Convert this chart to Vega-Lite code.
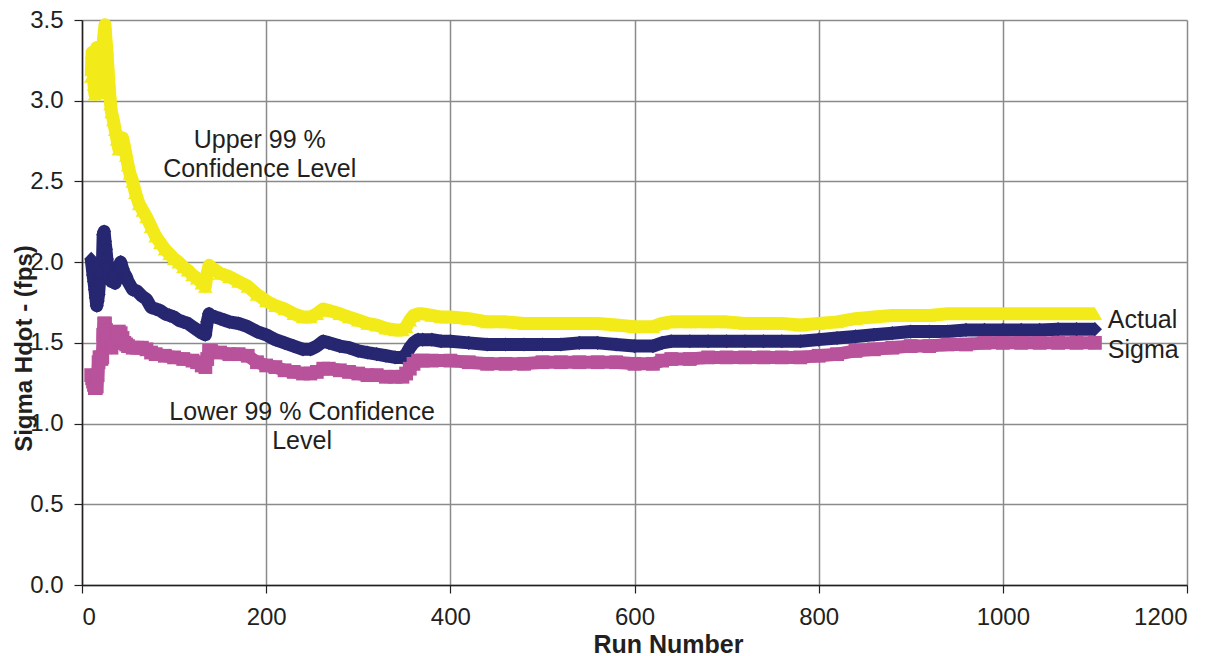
{
  "$schema": "https://vega.github.io/schema/vega-lite/v6.json",
  "width": 1105,
  "height": 565,
  "autosize": {"type": "none"},
  "padding": {"left": 82, "top": 20, "right": 38, "bottom": 71},
  "background": "white",
  "config": {
    "view": {"stroke": null},
    "font": "Liberation Sans",
    "axis": {
      "labelFont": "Liberation Sans",
      "titleFont": "Liberation Sans",
      "labelColor": "#231f20",
      "titleColor": "#231f20",
      "labelFontSize": 24,
      "titleFontSize": 24,
      "titleFontWeight": "bold",
      "gridColor": "#8a8a8a",
      "gridWidth": 1.5,
      "gridOpacity": 1,
      "domainColor": "#231f20",
      "domainWidth": 1.5,
      "tickColor": "#231f20",
      "tickWidth": 1.2,
      "tickSize": 8
    }
  },
  "datasets": {
    "series": [
      {"run": 10, "series": "Upper", "sigma": 3.15},
      {"run": 11, "series": "Upper", "sigma": 3.3},
      {"run": 12, "series": "Upper", "sigma": 3.2},
      {"run": 13, "series": "Upper", "sigma": 3.1},
      {"run": 14, "series": "Upper", "sigma": 3.04},
      {"run": 15, "series": "Upper", "sigma": 3.1},
      {"run": 16, "series": "Upper", "sigma": 3.33},
      {"run": 17, "series": "Upper", "sigma": 3.22},
      {"run": 18, "series": "Upper", "sigma": 3.17},
      {"run": 19, "series": "Upper", "sigma": 3.1},
      {"run": 20, "series": "Upper", "sigma": 3.05},
      {"run": 21, "series": "Upper", "sigma": 3.16},
      {"run": 22, "series": "Upper", "sigma": 3.25},
      {"run": 23, "series": "Upper", "sigma": 3.35},
      {"run": 24, "series": "Upper", "sigma": 3.42},
      {"run": 25, "series": "Upper", "sigma": 3.47},
      {"run": 26, "series": "Upper", "sigma": 3.38},
      {"run": 27, "series": "Upper", "sigma": 3.32},
      {"run": 28, "series": "Upper", "sigma": 3.22},
      {"run": 29, "series": "Upper", "sigma": 3.13},
      {"run": 30, "series": "Upper", "sigma": 3.05},
      {"run": 31, "series": "Upper", "sigma": 2.98},
      {"run": 32, "series": "Upper", "sigma": 2.93},
      {"run": 34, "series": "Upper", "sigma": 2.88},
      {"run": 36, "series": "Upper", "sigma": 2.82},
      {"run": 38, "series": "Upper", "sigma": 2.76},
      {"run": 40, "series": "Upper", "sigma": 2.7},
      {"run": 42, "series": "Upper", "sigma": 2.72},
      {"run": 44, "series": "Upper", "sigma": 2.77},
      {"run": 46, "series": "Upper", "sigma": 2.72},
      {"run": 48, "series": "Upper", "sigma": 2.66},
      {"run": 50, "series": "Upper", "sigma": 2.6},
      {"run": 52, "series": "Upper", "sigma": 2.55},
      {"run": 55, "series": "Upper", "sigma": 2.5},
      {"run": 58, "series": "Upper", "sigma": 2.43},
      {"run": 62, "series": "Upper", "sigma": 2.36},
      {"run": 66, "series": "Upper", "sigma": 2.32},
      {"run": 70, "series": "Upper", "sigma": 2.28},
      {"run": 75, "series": "Upper", "sigma": 2.22},
      {"run": 80, "series": "Upper", "sigma": 2.16},
      {"run": 85, "series": "Upper", "sigma": 2.12},
      {"run": 90, "series": "Upper", "sigma": 2.08},
      {"run": 95, "series": "Upper", "sigma": 2.05},
      {"run": 100, "series": "Upper", "sigma": 2.02},
      {"run": 105, "series": "Upper", "sigma": 2.0},
      {"run": 110, "series": "Upper", "sigma": 1.97},
      {"run": 115, "series": "Upper", "sigma": 1.95},
      {"run": 120, "series": "Upper", "sigma": 1.92},
      {"run": 125, "series": "Upper", "sigma": 1.9},
      {"run": 130, "series": "Upper", "sigma": 1.87},
      {"run": 134, "series": "Upper", "sigma": 1.85},
      {"run": 136, "series": "Upper", "sigma": 1.93},
      {"run": 138, "series": "Upper", "sigma": 1.98},
      {"run": 140, "series": "Upper", "sigma": 1.97},
      {"run": 145, "series": "Upper", "sigma": 1.95},
      {"run": 150, "series": "Upper", "sigma": 1.93},
      {"run": 160, "series": "Upper", "sigma": 1.91},
      {"run": 170, "series": "Upper", "sigma": 1.88},
      {"run": 180, "series": "Upper", "sigma": 1.85},
      {"run": 190, "series": "Upper", "sigma": 1.8},
      {"run": 200, "series": "Upper", "sigma": 1.76},
      {"run": 210, "series": "Upper", "sigma": 1.73},
      {"run": 220, "series": "Upper", "sigma": 1.71},
      {"run": 230, "series": "Upper", "sigma": 1.68},
      {"run": 240, "series": "Upper", "sigma": 1.66},
      {"run": 248, "series": "Upper", "sigma": 1.66},
      {"run": 255, "series": "Upper", "sigma": 1.68},
      {"run": 262, "series": "Upper", "sigma": 1.71},
      {"run": 268, "series": "Upper", "sigma": 1.7},
      {"run": 280, "series": "Upper", "sigma": 1.68},
      {"run": 290, "series": "Upper", "sigma": 1.66},
      {"run": 300, "series": "Upper", "sigma": 1.64},
      {"run": 310, "series": "Upper", "sigma": 1.62},
      {"run": 320, "series": "Upper", "sigma": 1.61},
      {"run": 330, "series": "Upper", "sigma": 1.59},
      {"run": 340, "series": "Upper", "sigma": 1.58},
      {"run": 348, "series": "Upper", "sigma": 1.58},
      {"run": 352, "series": "Upper", "sigma": 1.6},
      {"run": 356, "series": "Upper", "sigma": 1.64},
      {"run": 360, "series": "Upper", "sigma": 1.67},
      {"run": 365, "series": "Upper", "sigma": 1.68},
      {"run": 370, "series": "Upper", "sigma": 1.68},
      {"run": 380, "series": "Upper", "sigma": 1.67},
      {"run": 390, "series": "Upper", "sigma": 1.66},
      {"run": 400, "series": "Upper", "sigma": 1.66},
      {"run": 420, "series": "Upper", "sigma": 1.65},
      {"run": 440, "series": "Upper", "sigma": 1.63},
      {"run": 460, "series": "Upper", "sigma": 1.63},
      {"run": 480, "series": "Upper", "sigma": 1.62},
      {"run": 500, "series": "Upper", "sigma": 1.62},
      {"run": 520, "series": "Upper", "sigma": 1.62},
      {"run": 540, "series": "Upper", "sigma": 1.62},
      {"run": 560, "series": "Upper", "sigma": 1.62},
      {"run": 580, "series": "Upper", "sigma": 1.61},
      {"run": 600, "series": "Upper", "sigma": 1.6},
      {"run": 620, "series": "Upper", "sigma": 1.6},
      {"run": 630, "series": "Upper", "sigma": 1.62},
      {"run": 640, "series": "Upper", "sigma": 1.63},
      {"run": 660, "series": "Upper", "sigma": 1.63},
      {"run": 680, "series": "Upper", "sigma": 1.63},
      {"run": 700, "series": "Upper", "sigma": 1.63},
      {"run": 720, "series": "Upper", "sigma": 1.62},
      {"run": 740, "series": "Upper", "sigma": 1.62},
      {"run": 760, "series": "Upper", "sigma": 1.62},
      {"run": 780, "series": "Upper", "sigma": 1.61},
      {"run": 800, "series": "Upper", "sigma": 1.62},
      {"run": 820, "series": "Upper", "sigma": 1.63},
      {"run": 840, "series": "Upper", "sigma": 1.65},
      {"run": 860, "series": "Upper", "sigma": 1.66},
      {"run": 880, "series": "Upper", "sigma": 1.67},
      {"run": 900, "series": "Upper", "sigma": 1.67},
      {"run": 920, "series": "Upper", "sigma": 1.67},
      {"run": 940, "series": "Upper", "sigma": 1.68},
      {"run": 960, "series": "Upper", "sigma": 1.68},
      {"run": 980, "series": "Upper", "sigma": 1.68},
      {"run": 1000, "series": "Upper", "sigma": 1.68},
      {"run": 1020, "series": "Upper", "sigma": 1.68},
      {"run": 1040, "series": "Upper", "sigma": 1.68},
      {"run": 1060, "series": "Upper", "sigma": 1.68},
      {"run": 1080, "series": "Upper", "sigma": 1.68},
      {"run": 1100, "series": "Upper", "sigma": 1.68},

      {"run": 10, "series": "Actual", "sigma": 2.02},
      {"run": 12, "series": "Actual", "sigma": 1.92},
      {"run": 13, "series": "Actual", "sigma": 1.88},
      {"run": 14, "series": "Actual", "sigma": 1.83},
      {"run": 15, "series": "Actual", "sigma": 1.78},
      {"run": 16, "series": "Actual", "sigma": 1.73},
      {"run": 17, "series": "Actual", "sigma": 1.76},
      {"run": 18, "series": "Actual", "sigma": 1.8},
      {"run": 19, "series": "Actual", "sigma": 1.88},
      {"run": 20, "series": "Actual", "sigma": 1.91},
      {"run": 21, "series": "Actual", "sigma": 1.93},
      {"run": 22, "series": "Actual", "sigma": 1.95},
      {"run": 23, "series": "Actual", "sigma": 2.17},
      {"run": 24, "series": "Actual", "sigma": 2.19},
      {"run": 25, "series": "Actual", "sigma": 2.13},
      {"run": 26, "series": "Actual", "sigma": 2.08},
      {"run": 27, "series": "Actual", "sigma": 2.02},
      {"run": 28, "series": "Actual", "sigma": 1.97},
      {"run": 29, "series": "Actual", "sigma": 1.93},
      {"run": 30, "series": "Actual", "sigma": 1.9},
      {"run": 32, "series": "Actual", "sigma": 1.88},
      {"run": 34, "series": "Actual", "sigma": 1.92},
      {"run": 36, "series": "Actual", "sigma": 1.87},
      {"run": 38, "series": "Actual", "sigma": 1.93},
      {"run": 40, "series": "Actual", "sigma": 1.97},
      {"run": 42, "series": "Actual", "sigma": 2.0},
      {"run": 44, "series": "Actual", "sigma": 1.96},
      {"run": 46, "series": "Actual", "sigma": 1.93},
      {"run": 48, "series": "Actual", "sigma": 1.91},
      {"run": 50, "series": "Actual", "sigma": 1.88},
      {"run": 55, "series": "Actual", "sigma": 1.83},
      {"run": 60, "series": "Actual", "sigma": 1.82},
      {"run": 65, "series": "Actual", "sigma": 1.79},
      {"run": 70, "series": "Actual", "sigma": 1.77},
      {"run": 75, "series": "Actual", "sigma": 1.72},
      {"run": 80, "series": "Actual", "sigma": 1.71},
      {"run": 85, "series": "Actual", "sigma": 1.7},
      {"run": 90, "series": "Actual", "sigma": 1.68},
      {"run": 95, "series": "Actual", "sigma": 1.67},
      {"run": 100, "series": "Actual", "sigma": 1.66},
      {"run": 105, "series": "Actual", "sigma": 1.64},
      {"run": 110, "series": "Actual", "sigma": 1.63},
      {"run": 115, "series": "Actual", "sigma": 1.62},
      {"run": 120, "series": "Actual", "sigma": 1.6},
      {"run": 125, "series": "Actual", "sigma": 1.58},
      {"run": 130, "series": "Actual", "sigma": 1.56},
      {"run": 134, "series": "Actual", "sigma": 1.55},
      {"run": 136, "series": "Actual", "sigma": 1.63},
      {"run": 138, "series": "Actual", "sigma": 1.68},
      {"run": 140, "series": "Actual", "sigma": 1.67},
      {"run": 145, "series": "Actual", "sigma": 1.66},
      {"run": 150, "series": "Actual", "sigma": 1.65},
      {"run": 155, "series": "Actual", "sigma": 1.64},
      {"run": 160, "series": "Actual", "sigma": 1.63},
      {"run": 170, "series": "Actual", "sigma": 1.62},
      {"run": 180, "series": "Actual", "sigma": 1.6},
      {"run": 190, "series": "Actual", "sigma": 1.57},
      {"run": 200, "series": "Actual", "sigma": 1.55},
      {"run": 210, "series": "Actual", "sigma": 1.52},
      {"run": 220, "series": "Actual", "sigma": 1.5},
      {"run": 230, "series": "Actual", "sigma": 1.48},
      {"run": 240, "series": "Actual", "sigma": 1.46},
      {"run": 248, "series": "Actual", "sigma": 1.46},
      {"run": 255, "series": "Actual", "sigma": 1.48},
      {"run": 262, "series": "Actual", "sigma": 1.51},
      {"run": 268, "series": "Actual", "sigma": 1.5},
      {"run": 280, "series": "Actual", "sigma": 1.48},
      {"run": 290, "series": "Actual", "sigma": 1.47},
      {"run": 300, "series": "Actual", "sigma": 1.45},
      {"run": 310, "series": "Actual", "sigma": 1.44},
      {"run": 320, "series": "Actual", "sigma": 1.43},
      {"run": 330, "series": "Actual", "sigma": 1.42},
      {"run": 340, "series": "Actual", "sigma": 1.41},
      {"run": 348, "series": "Actual", "sigma": 1.41},
      {"run": 352, "series": "Actual", "sigma": 1.43},
      {"run": 356, "series": "Actual", "sigma": 1.47},
      {"run": 360, "series": "Actual", "sigma": 1.5},
      {"run": 365, "series": "Actual", "sigma": 1.52},
      {"run": 370, "series": "Actual", "sigma": 1.52},
      {"run": 380, "series": "Actual", "sigma": 1.52},
      {"run": 390, "series": "Actual", "sigma": 1.51},
      {"run": 400, "series": "Actual", "sigma": 1.51},
      {"run": 420, "series": "Actual", "sigma": 1.5},
      {"run": 440, "series": "Actual", "sigma": 1.49},
      {"run": 460, "series": "Actual", "sigma": 1.49},
      {"run": 480, "series": "Actual", "sigma": 1.49},
      {"run": 500, "series": "Actual", "sigma": 1.49},
      {"run": 520, "series": "Actual", "sigma": 1.49},
      {"run": 540, "series": "Actual", "sigma": 1.5},
      {"run": 560, "series": "Actual", "sigma": 1.5},
      {"run": 580, "series": "Actual", "sigma": 1.49},
      {"run": 600, "series": "Actual", "sigma": 1.48},
      {"run": 620, "series": "Actual", "sigma": 1.48},
      {"run": 630, "series": "Actual", "sigma": 1.5},
      {"run": 640, "series": "Actual", "sigma": 1.51},
      {"run": 660, "series": "Actual", "sigma": 1.51},
      {"run": 680, "series": "Actual", "sigma": 1.51},
      {"run": 700, "series": "Actual", "sigma": 1.51},
      {"run": 720, "series": "Actual", "sigma": 1.51},
      {"run": 740, "series": "Actual", "sigma": 1.51},
      {"run": 760, "series": "Actual", "sigma": 1.51},
      {"run": 780, "series": "Actual", "sigma": 1.51},
      {"run": 800, "series": "Actual", "sigma": 1.52},
      {"run": 820, "series": "Actual", "sigma": 1.53},
      {"run": 840, "series": "Actual", "sigma": 1.54},
      {"run": 860, "series": "Actual", "sigma": 1.55},
      {"run": 880, "series": "Actual", "sigma": 1.56},
      {"run": 900, "series": "Actual", "sigma": 1.57},
      {"run": 920, "series": "Actual", "sigma": 1.57},
      {"run": 940, "series": "Actual", "sigma": 1.57},
      {"run": 960, "series": "Actual", "sigma": 1.58},
      {"run": 980, "series": "Actual", "sigma": 1.58},
      {"run": 1000, "series": "Actual", "sigma": 1.58},
      {"run": 1020, "series": "Actual", "sigma": 1.58},
      {"run": 1040, "series": "Actual", "sigma": 1.58},
      {"run": 1060, "series": "Actual", "sigma": 1.585},
      {"run": 1080, "series": "Actual", "sigma": 1.585},
      {"run": 1100, "series": "Actual", "sigma": 1.585},

      {"run": 10, "series": "Lower", "sigma": 1.3},
      {"run": 11, "series": "Lower", "sigma": 1.28},
      {"run": 12, "series": "Lower", "sigma": 1.26},
      {"run": 13, "series": "Lower", "sigma": 1.24},
      {"run": 14, "series": "Lower", "sigma": 1.22},
      {"run": 15, "series": "Lower", "sigma": 1.22},
      {"run": 16, "series": "Lower", "sigma": 1.23},
      {"run": 17, "series": "Lower", "sigma": 1.3},
      {"run": 18, "series": "Lower", "sigma": 1.38},
      {"run": 19, "series": "Lower", "sigma": 1.41},
      {"run": 20, "series": "Lower", "sigma": 1.41},
      {"run": 21, "series": "Lower", "sigma": 1.4},
      {"run": 22, "series": "Lower", "sigma": 1.41},
      {"run": 23, "series": "Lower", "sigma": 1.55},
      {"run": 24, "series": "Lower", "sigma": 1.62},
      {"run": 25, "series": "Lower", "sigma": 1.62},
      {"run": 26, "series": "Lower", "sigma": 1.58},
      {"run": 27, "series": "Lower", "sigma": 1.55},
      {"run": 28, "series": "Lower", "sigma": 1.52},
      {"run": 29, "series": "Lower", "sigma": 1.5},
      {"run": 30, "series": "Lower", "sigma": 1.48},
      {"run": 32, "series": "Lower", "sigma": 1.47},
      {"run": 34, "series": "Lower", "sigma": 1.5},
      {"run": 36, "series": "Lower", "sigma": 1.52},
      {"run": 38, "series": "Lower", "sigma": 1.56},
      {"run": 40, "series": "Lower", "sigma": 1.57},
      {"run": 42, "series": "Lower", "sigma": 1.56},
      {"run": 44, "series": "Lower", "sigma": 1.53},
      {"run": 46, "series": "Lower", "sigma": 1.5},
      {"run": 48, "series": "Lower", "sigma": 1.49},
      {"run": 50, "series": "Lower", "sigma": 1.48},
      {"run": 55, "series": "Lower", "sigma": 1.47},
      {"run": 60, "series": "Lower", "sigma": 1.47},
      {"run": 65, "series": "Lower", "sigma": 1.47},
      {"run": 70, "series": "Lower", "sigma": 1.46},
      {"run": 75, "series": "Lower", "sigma": 1.44},
      {"run": 80, "series": "Lower", "sigma": 1.43},
      {"run": 90, "series": "Lower", "sigma": 1.42},
      {"run": 100, "series": "Lower", "sigma": 1.41},
      {"run": 110, "series": "Lower", "sigma": 1.4},
      {"run": 120, "series": "Lower", "sigma": 1.39},
      {"run": 125, "series": "Lower", "sigma": 1.38},
      {"run": 130, "series": "Lower", "sigma": 1.36},
      {"run": 134, "series": "Lower", "sigma": 1.35},
      {"run": 136, "series": "Lower", "sigma": 1.4},
      {"run": 138, "series": "Lower", "sigma": 1.45},
      {"run": 140, "series": "Lower", "sigma": 1.45},
      {"run": 150, "series": "Lower", "sigma": 1.44},
      {"run": 160, "series": "Lower", "sigma": 1.43},
      {"run": 170, "series": "Lower", "sigma": 1.43},
      {"run": 180, "series": "Lower", "sigma": 1.42},
      {"run": 190, "series": "Lower", "sigma": 1.38},
      {"run": 200, "series": "Lower", "sigma": 1.36},
      {"run": 210, "series": "Lower", "sigma": 1.35},
      {"run": 220, "series": "Lower", "sigma": 1.33},
      {"run": 230, "series": "Lower", "sigma": 1.32},
      {"run": 240, "series": "Lower", "sigma": 1.31},
      {"run": 248, "series": "Lower", "sigma": 1.31},
      {"run": 255, "series": "Lower", "sigma": 1.32},
      {"run": 262, "series": "Lower", "sigma": 1.34},
      {"run": 268, "series": "Lower", "sigma": 1.34},
      {"run": 280, "series": "Lower", "sigma": 1.33},
      {"run": 290, "series": "Lower", "sigma": 1.32},
      {"run": 300, "series": "Lower", "sigma": 1.31},
      {"run": 310, "series": "Lower", "sigma": 1.3},
      {"run": 320, "series": "Lower", "sigma": 1.3},
      {"run": 330, "series": "Lower", "sigma": 1.29},
      {"run": 340, "series": "Lower", "sigma": 1.29},
      {"run": 348, "series": "Lower", "sigma": 1.29},
      {"run": 352, "series": "Lower", "sigma": 1.31},
      {"run": 356, "series": "Lower", "sigma": 1.34},
      {"run": 360, "series": "Lower", "sigma": 1.37},
      {"run": 365, "series": "Lower", "sigma": 1.39},
      {"run": 370, "series": "Lower", "sigma": 1.39},
      {"run": 380, "series": "Lower", "sigma": 1.39},
      {"run": 400, "series": "Lower", "sigma": 1.39},
      {"run": 420, "series": "Lower", "sigma": 1.38},
      {"run": 440, "series": "Lower", "sigma": 1.37},
      {"run": 460, "series": "Lower", "sigma": 1.37},
      {"run": 480, "series": "Lower", "sigma": 1.37},
      {"run": 500, "series": "Lower", "sigma": 1.38},
      {"run": 520, "series": "Lower", "sigma": 1.38},
      {"run": 540, "series": "Lower", "sigma": 1.38},
      {"run": 560, "series": "Lower", "sigma": 1.38},
      {"run": 580, "series": "Lower", "sigma": 1.38},
      {"run": 600, "series": "Lower", "sigma": 1.37},
      {"run": 620, "series": "Lower", "sigma": 1.37},
      {"run": 630, "series": "Lower", "sigma": 1.39},
      {"run": 640, "series": "Lower", "sigma": 1.4},
      {"run": 660, "series": "Lower", "sigma": 1.4},
      {"run": 680, "series": "Lower", "sigma": 1.41},
      {"run": 700, "series": "Lower", "sigma": 1.41},
      {"run": 720, "series": "Lower", "sigma": 1.41},
      {"run": 740, "series": "Lower", "sigma": 1.41},
      {"run": 760, "series": "Lower", "sigma": 1.41},
      {"run": 780, "series": "Lower", "sigma": 1.41},
      {"run": 800, "series": "Lower", "sigma": 1.42},
      {"run": 820, "series": "Lower", "sigma": 1.43},
      {"run": 840, "series": "Lower", "sigma": 1.45},
      {"run": 860, "series": "Lower", "sigma": 1.46},
      {"run": 880, "series": "Lower", "sigma": 1.47},
      {"run": 900, "series": "Lower", "sigma": 1.48},
      {"run": 920, "series": "Lower", "sigma": 1.48},
      {"run": 940, "series": "Lower", "sigma": 1.49},
      {"run": 960, "series": "Lower", "sigma": 1.49},
      {"run": 980, "series": "Lower", "sigma": 1.5},
      {"run": 1000, "series": "Lower", "sigma": 1.5},
      {"run": 1020, "series": "Lower", "sigma": 1.5},
      {"run": 1040, "series": "Lower", "sigma": 1.5},
      {"run": 1060, "series": "Lower", "sigma": 1.5},
      {"run": 1080, "series": "Lower", "sigma": 1.5},
      {"run": 1100, "series": "Lower", "sigma": 1.5}
    ],
    "labels": [
      {"run": 193, "sigma": 2.707, "text": "Upper 99 %\nConfidence Level", "kind": "center"},
      {"run": 239, "sigma": 1.022, "text": "Lower 99 % Confidence\nLevel", "kind": "center"},
      {"run": 1114, "sigma": 1.592, "text": "Actual\nSigma", "kind": "left"}
    ]
  },
  "layer": [
    {
      "data": {"name": "series"},
      "mark": {"type": "line", "strokeWidth": 13, "strokeCap": "butt", "strokeJoin": "round"},
      "encoding": {
        "x": {
          "field": "run", "type": "quantitative",
          "scale": {"domain": [0, 1200], "nice": false},
          "axis": {
            "values": [0, 200, 400, 600, 800, 1000, 1200],
            "format": "d",
            "title": "Run Number",
            "labelPadding": 12,
            "titleX": 586, "titleY": 67, "titleBaseline": "alphabetic", "titleAlign": "center",
            "titleFontSize": 25
          }
        },
        "y": {
          "field": "sigma", "type": "quantitative",
          "scale": {"domain": [0, 3.5], "nice": false},
          "axis": {
            "values": [0, 0.5, 1, 1.5, 2, 2.5, 3, 3.5],
            "format": ".1f",
            "title": "Sigma Hdot - (fps)",
            "labelPadding": 11,
            "titleX": -51, "titleY": 328, "titleAngle": -90, "titleBaseline": "alphabetic", "titleAlign": "center"
          }
        },
        "color": {
          "field": "series", "type": "nominal",
          "scale": {"domain": ["Lower", "Actual", "Upper"], "range": ["#b8529b", "#262770", "#f2eb19"]},
          "legend": null
        },
        "detail": {"field": "series"}
      }
    },
    {
      "data": {"name": "series"},
      "mark": {"type": "point", "filled": true, "opacity": 1, "strokeWidth": 0},
      "encoding": {
        "x": {"field": "run", "type": "quantitative"},
        "y": {"field": "sigma", "type": "quantitative"},
        "color": {"field": "series", "type": "nominal", "legend": null},
        "shape": {
          "field": "series", "type": "nominal",
          "scale": {"domain": ["Lower", "Actual", "Upper"], "range": ["square", "diamond", "triangle-up"]},
          "legend": null
        },
        "size": {
          "field": "series", "type": "nominal",
          "scale": {"domain": ["Lower", "Actual", "Upper"], "range": [190, 210, 220]},
          "legend": null
        }
      }
    },
    {
      "data": {"name": "labels"},
      "transform": [{"filter": "datum.kind === 'center'"}],
      "mark": {"type": "text", "align": "center", "baseline": "alphabetic", "fontSize": 25, "font": "Liberation Sans", "color": "#231f20", "lineBreak": "\n", "lineHeight": 29},
      "encoding": {
        "x": {"field": "run", "type": "quantitative"},
        "y": {"field": "sigma", "type": "quantitative"},
        "text": {"field": "text"}
      }
    },
    {
      "data": {"name": "labels"},
      "transform": [{"filter": "datum.kind === 'left'"}],
      "mark": {"type": "text", "align": "left", "baseline": "alphabetic", "fontSize": 25, "font": "Liberation Sans", "color": "#231f20", "lineBreak": "\n", "lineHeight": 30},
      "encoding": {
        "x": {"field": "run", "type": "quantitative"},
        "y": {"field": "sigma", "type": "quantitative"},
        "text": {"field": "text"}
      }
    }
  ]
}
